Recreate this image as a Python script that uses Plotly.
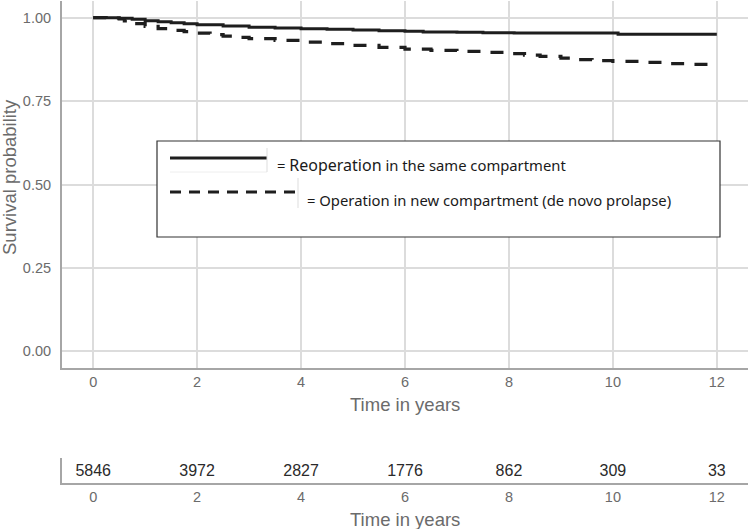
import plotly.graph_objects as go

# ---- data ----
same_time = [0, 0.25, 0.5, 0.75, 1, 1.25, 1.5, 1.75, 2, 2.5, 3, 3.5, 4, 4.5, 5, 5.5, 6, 6.35, 7, 7.5, 8, 8.1, 9, 10, 10.1, 12]
same_surv = [1.0, 1.0, 0.998, 0.995, 0.991, 0.988, 0.985, 0.982, 0.979, 0.975, 0.971, 0.969, 0.967, 0.965, 0.963, 0.961, 0.959, 0.957, 0.956, 0.955, 0.955, 0.954, 0.954, 0.954, 0.950, 0.950]

new_time = [0, 0.25, 0.5, 0.6, 0.75, 1, 1.25, 1.5, 1.75, 2, 2.25, 2.5, 2.75, 3, 3.5, 4, 4.5, 5, 5.5, 6, 6.5, 7, 7.5, 8, 8.3, 8.6, 9, 9.3, 9.6, 10, 10.5, 11, 11.5, 12]
new_surv = [1.0, 0.999, 0.996, 0.990, 0.982, 0.974, 0.967, 0.962, 0.958, 0.954, 0.949, 0.945, 0.941, 0.937, 0.932, 0.927, 0.922, 0.917, 0.911, 0.906, 0.902, 0.899, 0.896, 0.892, 0.888, 0.884, 0.879, 0.874, 0.871, 0.869, 0.866, 0.862, 0.860, 0.859]

risk_time = [0, 2, 4, 6, 8, 10, 12]
risk_n = [5846, 3972, 2827, 1776, 862, 309, 33]

x_ticks = [0, 2, 4, 6, 8, 10, 12]
y_ticks = [0, 0.25, 0.5, 0.75, 1.0]
y_ticklabels = ["0.00", "0.25", "0.50", "0.75", "1.00"]

label_same = "= <span style='font-size:16px'>Reoperation</span> in the same compartment"
label_new = "= Operation in new compartment (de novo prolapse)"

# ---- layout helpers ----
W, H = 752, 529
ML, MR, MT, MB = 62, 4, 1, 46
PW = W - ML - MR
PH = H - MT - MB


def px(x):
    return (x - ML) / PW


def py(y):
    return (H - MB - y) / PH


TICK_FONT = dict(family="Liberation Sans, Arial", size=14.5, color="#6b6b6b")
TITLE_FONT = dict(family="Liberation Sans, Arial", size=18.5, color="#6b6b6b")
LEG_FONT = dict(family="Noto Sans, Open Sans", size=14.8, color="#1a1a1a")
AXIS_COL = "#a6a6a6"
GRID_COL = "#dcdcdc"

fig = go.Figure()

fig.add_trace(go.Scatter(x=same_time, y=same_surv, mode="lines", line_shape="hv",
                         line=dict(color="#1e1e1e", width=3), xaxis="x", yaxis="y",
                         showlegend=False, hoverinfo="skip"))
fig.add_trace(go.Scatter(x=new_time, y=new_surv, mode="lines", line_shape="hv",
                         line=dict(color="#1e1e1e", width=3.2, dash="13px,11px"), xaxis="x", yaxis="y",
                         showlegend=False, hoverinfo="skip"))

fig.add_trace(go.Scatter(x=risk_time, y=[0.45] * len(risk_time), mode="text",
                         text=[str(v) for v in risk_n],
                         textfont=dict(family="Liberation Sans, Arial", size=16, color="#2a2a2a"),
                         xaxis="x2", yaxis="y2", showlegend=False, hoverinfo="skip"))

main_bottom = py(368)
risk_top = py(458)

fig.update_layout(
    width=W, height=H,
    margin=dict(l=ML, r=MR, t=MT, b=MB),
    paper_bgcolor="white", plot_bgcolor="white",
    showlegend=False,
    xaxis=dict(range=[-0.6, 12.6], domain=[0, 1], anchor="y",
               tickvals=x_ticks, ticktext=[str(v) for v in x_ticks],
               tickfont=TICK_FONT, showgrid=True, gridcolor=GRID_COL, gridwidth=2,
               zeroline=False, showline=True, linecolor=AXIS_COL, linewidth=2,
               ticks="", ticklabelstandoff=0),
    yaxis=dict(range=[-0.05, 1.05], domain=[main_bottom, 1], anchor="x",
               tickvals=y_ticks, ticktext=y_ticklabels,
               tickfont=TICK_FONT, showgrid=True, gridcolor=GRID_COL, gridwidth=2,
               zeroline=False, showline=True, linecolor=AXIS_COL, linewidth=2,
               ticks="", ticklabelstandoff=6),
    xaxis2=dict(range=[-0.6, 12.6], domain=[0, 1], anchor="y2",
                tickvals=x_ticks, ticktext=[str(v) for v in x_ticks],
                tickfont=TICK_FONT, showgrid=False, zeroline=False,
                showline=True, linecolor=AXIS_COL, linewidth=2, ticks="", ticklabelstandoff=0),
    yaxis2=dict(range=[0, 1], domain=[0, risk_top], anchor="x2",
                showticklabels=False, showgrid=False, zeroline=False,
                showline=True, linecolor=AXIS_COL, linewidth=2, ticks=""),
)

annotations = [
    dict(text="Time in years", x=px(405), y=py(404), xref="paper", yref="paper",
         xanchor="center", yanchor="middle", showarrow=False, font=TITLE_FONT),
    dict(text="Time in years", x=px(405), y=py(519), xref="paper", yref="paper",
         xanchor="center", yanchor="middle", showarrow=False, font=TITLE_FONT),
    dict(text="Survival probability", x=px(9), y=py(177), xref="paper", yref="paper",
         xanchor="center", yanchor="middle", showarrow=False, textangle=-90, font=TITLE_FONT),
    dict(text=label_same, x=px(275), y=py(165), xref="paper", yref="paper",
         xanchor="left", yanchor="middle", showarrow=False, font=LEG_FONT),
    dict(text=label_new, x=px(305), y=py(200), xref="paper", yref="paper",
         xanchor="left", yanchor="middle", showarrow=False, font=LEG_FONT),
]
fig.update_layout(annotations=annotations)

shapes = [
    dict(type="rect", xref="paper", yref="paper", x0=px(157), x1=px(720), y0=py(237), y1=py(141),
         line=dict(color="#333333", width=1.2), fillcolor="white", layer="above"),
    dict(type="line", xref="paper", yref="paper", x0=px(170), x1=px(267), y0=py(158), y1=py(158),
         line=dict(color="#1e1e1e", width=3), layer="above"),
    dict(type="line", xref="paper", yref="paper", x0=px(170), x1=px(267), y0=py(172), y1=py(172),
         line=dict(color="#eeeeee", width=1), layer="above"),
    dict(type="line", xref="paper", yref="paper", x0=px(267), x1=px(267), y0=py(172), y1=py(148),
         line=dict(color="#dddddd", width=1), layer="above"),
    dict(type="line", xref="paper", yref="paper", x0=px(170), x1=px(297), y0=py(192), y1=py(192),
         line=dict(color="#1e1e1e", width=3, dash="11px,8px"), layer="above"),
    dict(type="line", xref="paper", yref="paper", x0=px(298), x1=px(298), y0=py(208), y1=py(178),
         line=dict(color="#dddddd", width=1), layer="above"),
]
fig.update_layout(shapes=shapes)

fig.write_html("out.html", config={"displayModeBar": False},
               post_script="document.body.style.margin='0';document.body.style.padding='0';")
